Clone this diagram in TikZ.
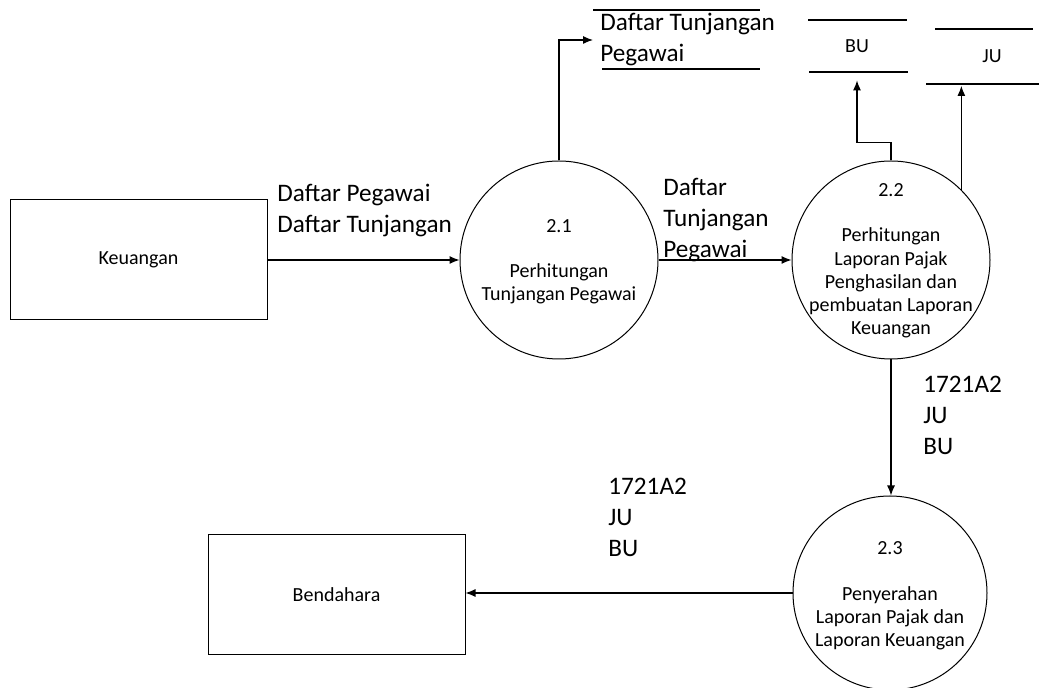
\documentclass[tikz,border=0pt]{standalone}
\usepackage{fontspec}
\setmainfont{Carlito}
\usetikzlibrary{shapes.geometric, arrows.meta}
\tikzstyle{entity} = [rectangle, minimum width=128.5pt, minimum height=60pt, text centered, draw=black, line width=0.5pt, font=\fontsize{10}{11.6}\selectfont]
\tikzstyle{process} = [circle, minimum size=99pt, draw=black, line width=0.5pt, inner sep=0pt]
\tikzstyle{ptext} = [align=center, inner sep=0pt, font=\fontsize{10}{11.6}\selectfont]
\tikzstyle{flow} = [align=left, anchor=west, inner sep=0pt, font=\fontsize{12.6}{15.5}\selectfont]
\tikzstyle{store} = [line width=0.6pt]
\tikzstyle{arrow} = [line width=0.6pt, -{Latex[length=5pt,width=4pt]}]

\begin{document}
\begin{tikzpicture}[x=0.5pt, y=-0.5pt]
\useasboundingbox (0,0) rectangle (1039,688);

% External entities
\node (keu) [entity] at (138.5,260) {Keuangan};
\node (bend) [entity] at (336.5,595) {Bendahara};

% Processes
\node (c21) [process] at (559,260) {};
\node (c22) [process] at (891,260) {};
\node (c23) [process, minimum size=97pt] at (890,593) {};

\node (n21) [ptext] at (559,226) {2.1};
\node (t21) [ptext] at (559,284) {Perhitungan\\Tunjangan Pegawai};
\node (n22) [ptext] at (891,190) {2.2};
\node (t22) [ptext] at (891,283) {Perhitungan\\Laporan Pajak\\Penghasilan dan\\pembuatan Laporan\\Keuangan};
\node (n23) [ptext] at (890,548) {2.3};
\node (t23) [ptext] at (890,618) {Penyerahan\\Laporan Pajak dan\\Laporan Keuangan};

% Data stores
\node (dtp) [flow, inner xsep=3.5pt] at (593,40) {Daftar Tunjangan\\Pegawai};
\draw [store] (593,10) -- (760,10);
\draw [store] (602,69) -- (760,69);
\node (bu) [ptext, minimum height=26pt] at (857,46) {BU};
\draw [store] (808,20) -- (907,20);
\draw [store] (809,72) -- (908,72);
\node (ju) [ptext, minimum height=29pt] at (992,56.5) {JU};
\draw [store] (935,29) -- (1033,29);
\draw [store] (926,84) -- (1039,84);

% Flow labels
\node (lbl1) [flow] at (277,211) {Daftar Pegawai\\Daftar Tunjangan};
\node (lbl2) [flow] at (663,220) {Daftar\\Tunjangan\\Pegawai};
\node (lbl3) [flow] at (923,415) {1721A2\\JU\\BU};
\node (lbl4) [flow] at (608,517) {1721A2\\JU\\BU};

% Drawing arrows
\draw [arrow] (keu.east) -- (c21.west);
\draw [arrow] (c21.east) -- (c22.west);
\draw [arrow] (c21.north) |- (dtp.west);
\draw [arrow] (c22.north) -- ++(0,-18) -| ([yshift=-4pt]bu.south);
\draw [arrow] (c22.45) -- (c22.45 |- ju.south);
\draw [arrow] (c22.south) -- (c22.south |- c23.north);
\draw [arrow] (c23.west) -- (c23.west -| bend.east);

\end{tikzpicture}
\end{document}
